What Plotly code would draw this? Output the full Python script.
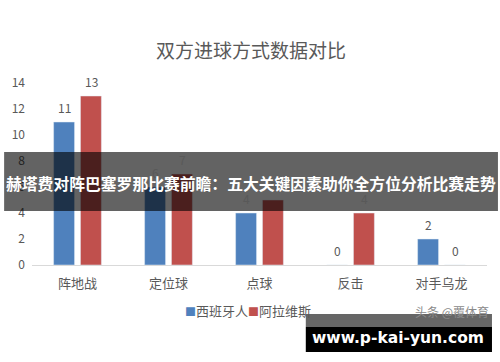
import plotly.graph_objects as go

categories = ["阵地战", "定位球", "点球", "反击", "对手乌龙"]
espanyol = [11, 6, 4, 0, 2]
alaves = [13, 7, 5, 4, 0]
series_names = ["西班牙人", "阿拉维斯"]
y_ticks = [0, 2, 4, 6, 8, 10, 12, 14]

BLUE = "#4F81BD"
RED = "#C0504D"
GRAY = "#595959"
FONT = "Noto Sans CJK SC"

# plot-area pixel geometry
L, R, T, B = 30, 487, 83, 265
W, H = 500, 362
def px(x):
    return (x - L) / (R - L)
def py(y):
    return (B - y) / (B - T)

fig = go.Figure()
fig.add_trace(go.Bar(x=categories, y=espanyol, name=series_names[0], marker_color=BLUE))
fig.add_trace(go.Bar(x=categories, y=alaves, name=series_names[1], marker_color=RED))

annotations = []
for vals, shift in ((espanyol, -13.5), (alaves, 13.5)):
    for c, v in zip(categories, vals):
        annotations.append(dict(x=c, y=v, text=str(v), showarrow=False, xshift=shift, yshift=15,
                                xanchor="center", yanchor="middle",
                                font=dict(family=FONT, size=12, color=GRAY)))

def paper_text(x, y, text, size, color, family=FONT):
    annotations.append(dict(xref="paper", yref="paper", x=px(x), y=py(y), text=text,
                            showarrow=False, xanchor="center", yanchor="middle",
                            font=dict(family=family, size=size, color=color)))

paper_text(250, 50, "双方进球方式数据对比", 19, GRAY)
# custom legend
legend_items = [(series_names[0], BLUE, 215), (series_names[1], RED, 279)]
for name, col, cx in legend_items:
    paper_text(cx, 310, f"<span style='color:{col};font-size:11px'>■</span>{name}", 13, GRAY)
paper_text(452, 311, "头条 @覆体育", 12, "#8a8a8a")
paper_text(250, 183, "<b>赫塔费对阵巴塞罗那比赛前瞻：五大关键因素助你全方位分析比赛走势</b>", 15.8, "white")
paper_text(398, 338, "<b>www.p-kai-yun.com</b>", 15.5, "white", "DejaVu Sans")

shapes = [
    dict(type="rect", xref="paper", yref="paper", x0=px(2), x1=px(498), y0=py(211), y1=py(152),
         fillcolor="rgba(0,0,0,0.61)", line=dict(width=0), layer="above"),
    dict(type="rect", xref="paper", yref="paper", x0=px(305), x1=px(492), y0=py(327), y1=py(314),
         fillcolor="rgba(0,0,0,0.6)", line=dict(width=0), layer="above"),
    dict(type="rect", xref="paper", yref="paper", x0=px(305), x1=px(492), y0=py(352), y1=py(327),
         fillcolor="black", line=dict(width=0), layer="above"),
]

fig.update_layout(
    width=W, height=H, autosize=False,
    margin=dict(l=L, r=W - R, t=T, b=H - B, pad=0),
    paper_bgcolor="white", plot_bgcolor="white",
    barmode="group", bargap=0.41, bargroupgap=0.22,
    showlegend=False,
    xaxis=dict(showgrid=False, showline=True, linecolor="#d9d9d9", linewidth=1, ticks="",
               ticklabelstandoff=6,
               tickfont=dict(family=FONT, size=13, color=GRAY), fixedrange=True),
    yaxis=dict(range=[0, 14], tickvals=y_ticks, showgrid=False, zeroline=False, showline=False,
               ticks="", ticklabelstandoff=6,
               tickfont=dict(family=FONT, size=12, color=GRAY)),
    annotations=annotations,
    shapes=shapes,
)

fig.write_html("out.html")
